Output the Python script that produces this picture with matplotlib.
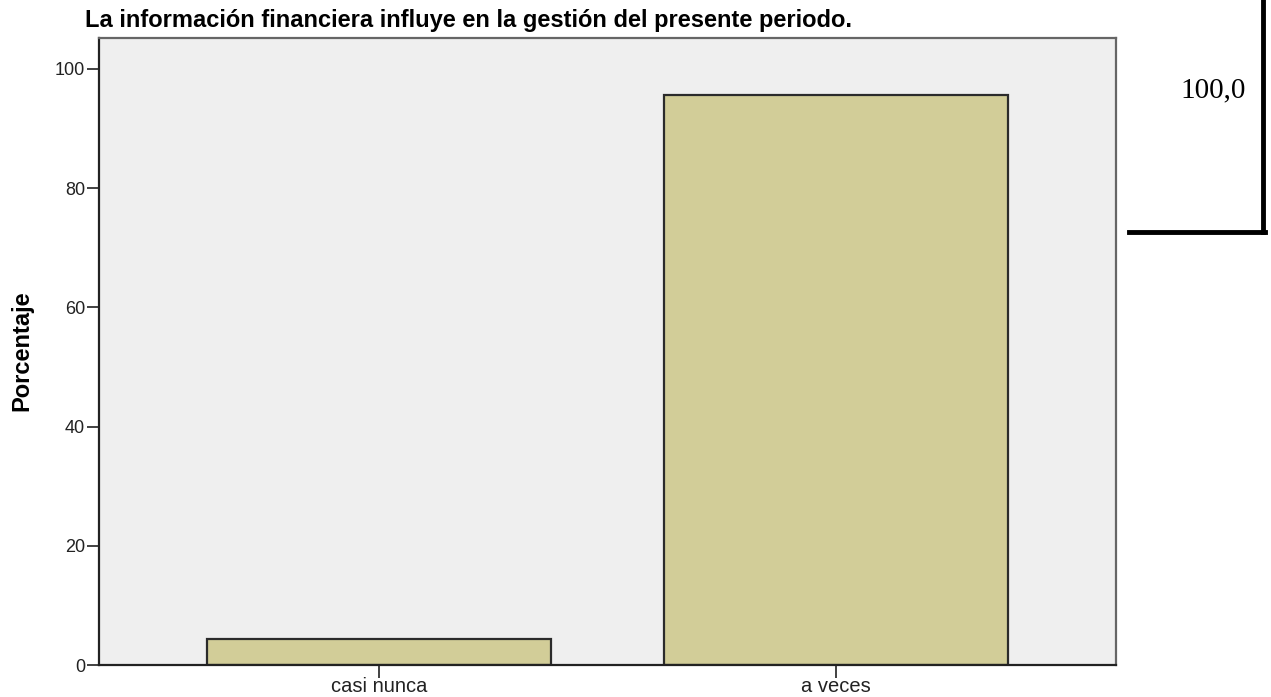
import matplotlib
matplotlib.use("Agg")
import matplotlib.pyplot as plt

# ── data ──────────────────────────────
categories = ["casi nunca", "a veces"]
percent = [4.3, 95.7]
y_ticks = [0, 20, 40, 60, 80, 100]
total_label = "100,0"

title = "La información financiera influye en la gestión del presente periodo."

plt.rcParams["font.family"] = ["Liberation Sans", "DejaVu Sans"]

fig = plt.figure(figsize=(12.71, 6.97), dpi=100)
W, H = 1271, 697
ax = fig.add_axes([99 / W, 1 - 665 / H, (1116 - 99) / W, (665 - 38) / H])
ax.set_facecolor("#efefef")

x = range(len(categories))
ax.bar(x, percent, width=0.754, color="#d2cd98", edgecolor="#2b2b2b",
       linewidth=1.6, zorder=2)

ax.set_xlim(-0.613, 1.613)
ax.set_ylim(0, 105.2)
ax.set_yticks(y_ticks)
ax.set_xticks(list(x))
ax.set_xticklabels(categories)
ax.tick_params(axis="both", direction="out", length=9, width=1.3,
               color="#333333", labelcolor="#222222", pad=1)
ax.tick_params(axis="y", labelsize=13)
ax.tick_params(axis="x", labelsize=14.5, pad=0)

for side in ["left", "bottom"]:
    ax.spines[side].set_linewidth(1.6)
    ax.spines[side].set_color("#222222")
for side in ["top", "right"]:
    ax.spines[side].set_linewidth(1.6)
    ax.spines[side].set_color("#666666")

# y label placed by pixel position
fig.text(22 / W, 1 - 351 / H, "Porcentaje", fontsize=17, fontweight="bold",
         rotation=90, ha="center", va="center")

fig.text(85 / W, 1 - 27 / H, title, fontsize=17, fontweight="bold",
         ha="left", va="baseline")

# ── pasted table fragment on the right ──
fig.text(1213 / W, 1 - 90 / H, total_label, fontsize=21,
         family=["Liberation Serif", "DejaVu Serif"], ha="center", va="center")
fig.add_artist(plt.Line2D([1263 / W, 1263 / W], [1.0, 1 - 232 / H],
                          color="black", linewidth=3.5, transform=fig.transFigure))
fig.add_artist(plt.Line2D([1129 / W, 1264.5 / W], [1 - 232 / H, 1 - 232 / H],
                          color="black", linewidth=3.5, transform=fig.transFigure))

fig.savefig("out.png", dpi=100)
